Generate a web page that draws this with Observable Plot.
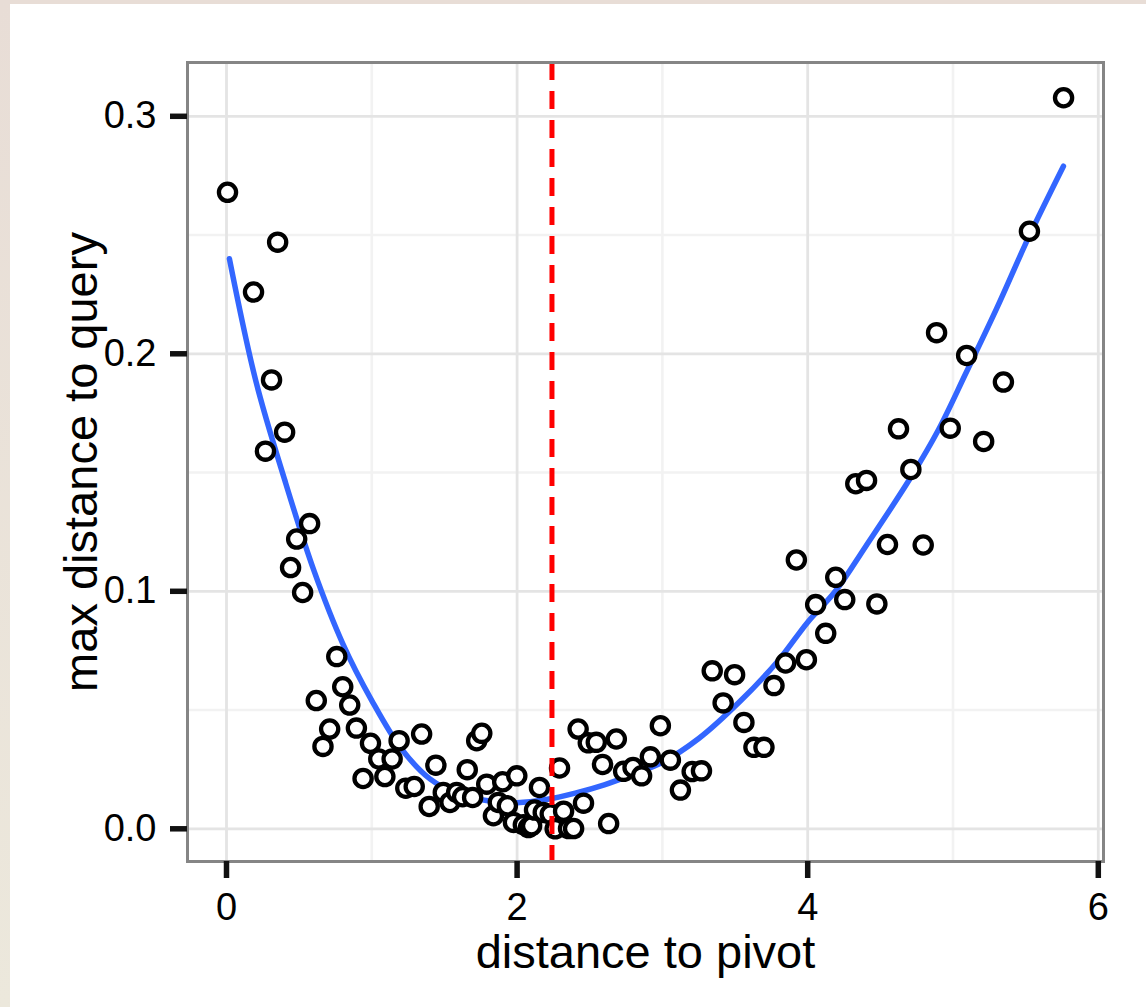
<!DOCTYPE html>
<html>
<head>
<meta charset="utf-8">
<script src="https://cdn.jsdelivr.net/npm/d3@7"></script>
<script src="https://cdn.jsdelivr.net/npm/@observablehq/plot@0.6"></script>
<style>
  html, body { margin: 0; padding: 0; }
  body { width: 1146px; height: 1007px; overflow: hidden;
         background: linear-gradient(to bottom, #e8ddd6, #ece8dc); }
  #chart { margin-left: 10px; padding-top: 4px; }
  #chart svg { display: block; background: white; }
</style>
</head>
<body>
<div id="chart"></div>
<script>
// ---- data ----
const pivotDist = [
  0.007, 0.186, 0.352, 0.31, 0.40, 0.268, 0.483, 0.572, 0.441, 0.524,
  0.759, 0.80, 0.618, 0.848, 0.71, 0.894, 0.664, 0.991, 1.188, 1.343,
  1.048, 1.140, 0.94, 1.090, 1.441, 1.234, 1.292, 1.395, 1.657, 1.492,
  1.538, 1.584, 1.625, 1.694, 1.722, 1.757, 1.791, 1.901, 1.998, 1.837,
  1.871, 1.933, 1.975, 2.043, 2.078, 2.10, 2.154, 2.12, 2.18, 2.228,
  2.262, 2.292, 2.32, 2.354, 2.389, 2.42, 2.49, 2.545, 2.683, 2.588,
  2.733, 2.798, 2.857, 2.917, 2.986, 3.055, 3.124, 3.205, 3.269, 3.343,
  3.497, 3.418, 3.561, 3.63, 3.699, 3.768, 3.848, 3.991, 2.457, 2.63,
  3.922, 4.055, 4.124, 4.193, 4.255, 4.331, 4.405, 4.476, 4.549, 4.625,
  4.71, 4.795, 4.887, 4.981, 5.094, 5.211, 5.347, 5.526, 5.761
];
const maxQueryDist = [
  0.268, 0.226, 0.247, 0.189, 0.167, 0.159, 0.122, 0.1285, 0.110, 0.0995,
  0.0725, 0.0598, 0.054, 0.0521, 0.042, 0.0424, 0.0347, 0.036, 0.0371, 0.0399,
  0.0294, 0.0294, 0.0212, 0.022, 0.0268, 0.0171, 0.0178, 0.0094, 0.0249, 0.0153,
  0.0111, 0.0153, 0.0135, 0.0132, 0.0371, 0.0402, 0.0188, 0.0198, 0.0223, 0.0055,
  0.0111, 0.0097, 0.0027, 0.0017, 0.0005, 0.0013, 0.0174, 0.0079, 0.0069, 0.0062,
  0.0, 0.0256, 0.0074, 0.0001, 0.0001, 0.042, 0.0362, 0.0364, 0.0378, 0.0271,
  0.0242, 0.0258, 0.0223, 0.0303, 0.0434, 0.0289, 0.0163, 0.0241, 0.0244, 0.0665,
  0.0649, 0.053, 0.0448, 0.0343, 0.0343, 0.0603, 0.0698, 0.0712, 0.0108, 0.0022,
  0.1132, 0.0944, 0.0823, 0.1059, 0.0965, 0.1453, 0.1467, 0.0947, 0.1197, 0.1684,
  0.1513, 0.1195, 0.2089, 0.1687, 0.1993, 0.1631, 0.1881, 0.2516, 0.3078
];
// smooth fit curve
const fitX = [0.02, 0.2, 0.4, 0.6, 0.8, 1.0, 1.2, 1.4, 1.6, 1.8, 2.0, 2.2, 2.4, 2.6,
              2.8, 3.0, 3.25, 3.54, 3.8, 4.0, 4.19, 4.4, 4.71, 4.9, 5.09, 5.3, 5.52, 5.76];
const fitY = [0.240, 0.189, 0.147, 0.109, 0.078, 0.054, 0.034, 0.021, 0.0145, 0.0118, 0.011, 0.0123, 0.015, 0.0185,
              0.023, 0.028, 0.038, 0.054, 0.071, 0.087, 0.100, 0.119, 0.148, 0.168, 0.192, 0.219, 0.249, 0.279];
const pivotLine = [2.24];
const xTicks = [0, 2, 4, 6];
const yTicks = [0, 0.1, 0.2, 0.3];
const xMinor = [1, 3, 5];
const yMinor = [0.05, 0.15, 0.25];

const points = pivotDist.map((d, i) => ({x: d, y: maxQueryDist[i]}));
const fit = fitX.map((d, i) => ({x: d, y: fitY[i]}));

const chart = Plot.plot({
  width: 1136,
  height: 1003,
  marginLeft: 177,
  marginRight: 43,
  marginTop: 58,
  marginBottom: 146,
  x: {domain: [-0.2684, 6.0358]},
  y: {domain: [-0.01377, 0.32265]},
  style: {fontFamily: "'Liberation Sans', Arial, Helvetica, sans-serif", color: "black", background: "white"},
  marks: [
    Plot.gridX(xMinor, {stroke: "#f2f2f2", strokeOpacity: 1, strokeWidth: 2.6}),
    Plot.gridY(yMinor, {stroke: "#f2f2f2", strokeOpacity: 1, strokeWidth: 2.6}),
    Plot.gridX(xTicks, {stroke: "#e4e4e4", strokeOpacity: 1, strokeWidth: 2.8}),
    Plot.gridY(yTicks, {stroke: "#e4e4e4", strokeOpacity: 1, strokeWidth: 2.8}),
    Plot.line(fit, {x: "x", y: "y", stroke: "#3366FF", strokeWidth: 5.5, curve: "catmull-rom"}),
    Plot.dot(points, {x: "x", y: "y", r: 8.6, fill: "white", stroke: "black", strokeWidth: 4.3}),
    Plot.ruleX(pivotLine, {stroke: "#ff0000", strokeWidth: 5, strokeDasharray: "18,11"}),
    Plot.frame({stroke: "#858585", strokeWidth: 3}),
    Plot.axisX(xTicks, {tickSize: 17, tickPadding: 15, strokeWidth: 5.5, fontSize: 38, label: null,
                        tickFormat: d => String(d)}),
    Plot.axisY(yTicks, {tickSize: 17, tickPadding: 14, strokeWidth: 5.5, fontSize: 38, label: null,
                        tickFormat: d => d.toFixed(1)}),
    Plot.text(["distance to pivot"], {frameAnchor: "bottom", dy: 91, lineAnchor: "middle", fontSize: 47}),
    Plot.text(["max distance to query"], {frameAnchor: "left", rotate: -90, dx: -106, lineAnchor: "middle",
                                          textAnchor: "middle", fontSize: 47})
  ]
});
// make sure stroke widths of axis ticks are applied
d3.select(chart).selectAll('g[aria-label="x-axis tick"], g[aria-label="y-axis tick"], g[aria-label="x-axis tick"] path, g[aria-label="y-axis tick"] path')
  .attr("stroke-width", 5.5).attr("stroke", "#111");
document.getElementById("chart").appendChild(chart);
</script>
</body>
</html>
